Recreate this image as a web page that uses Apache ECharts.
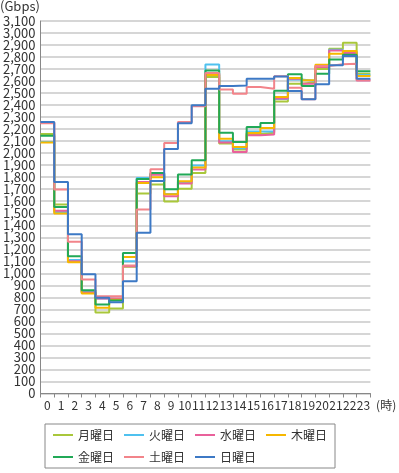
<!DOCTYPE html>
<html>
<head>
<meta charset="utf-8">
<script src="https://cdn.jsdelivr.net/npm/echarts@6/dist/echarts.min.js"></script>
<style>
  html, body { margin: 0; padding: 0; background: #fff; }
  #chart { width: 399px; height: 473px; }
</style>
</head>
<body>
<div id="chart"></div>
<script>
// hour labels on the x axis
var hours = ["0","1","2","3","4","5","6","7","8","9","10","11","12","13","14","15","16","17","18","19","20","21","22","23"];
var dayNames = ["月曜日", "火曜日", "水曜日", "木曜日", "金曜日", "土曜日", "日曜日"];
var dayColors = ["#a9c73b", "#4fc1ef", "#e9619b", "#f6b700", "#21a957", "#f2848a", "#3d79c5"];

// traffic per hour (Gbps)
var mon = [2160,1573,1100,840,675,708,1054,1664,1739,1597,1705,1835,2633,2080,2030,2160,2170,2431,2578,2590,2700,2869,2919,2662];
var tue = [2093,1511,1110,845,790,783,1100,1794,1825,1660,1760,1897,2739,2100,2040,2180,2180,2450,2614,2600,2720,2860,2840,2650];
var wed = [2255,1520,1100,840,790,790,1060,1760,1820,1642,1747,1864,2662,2088,2010,2149,2155,2455,2620,2578,2717,2855,2833,2605];
var thu = [2088,1498,1093,833,713,780,1137,1752,1800,1658,1766,1880,2650,2121,2052,2168,2210,2467,2625,2606,2736,2828,2850,2642];
var fri = [2146,1553,1143,860,741,775,1170,1786,1835,1700,1822,1941,2689,2171,2093,2218,2251,2520,2656,2559,2662,2780,2820,2681];
var sat = [2250,1697,1262,949,810,810,1066,1531,1866,2085,2259,2390,2667,2529,2495,2550,2537,2640,2545,2448,2725,2740,2744,2612];
var sun = [2259,1761,1326,993,796,760,935,1337,1769,2035,2250,2398,2537,2559,2564,2620,2620,2639,2517,2448,2573,2731,2808,2620];

var allDays = [mon, tue, wed, thu, fri, sat, sun];

var yMax = 3100;
var font = '"Noto Sans CJK JP", "Noto Sans", sans-serif';

// each hour value is drawn as a flat step over its hour slot
function toSteps(vals) {
  var pts = vals.map(function (v, i) { return [i, v]; });
  pts.push([vals.length, vals[vals.length - 1]]);
  return pts;
}

function withCommas(v) {
  return String(v).replace(/\B(?=(\d{3})+(?!\d))/g, ",");
}

var yLabel = { fontSize: 13, color: "#333", margin: 5, formatter: withCommas };

var chart = echarts.init(document.getElementById("chart"));

chart.setOption({
  animation: false,
  textStyle: { fontFamily: font },
  title: {
    text: "(Gbps)",
    left: 0,
    top: 0,
    padding: 0,
    textStyle: { fontSize: 13, fontWeight: "normal", color: "#333", fontFamily: font }
  },
  grid: { left: 39, right: 21, top: 21, bottom: 79.5, containLabel: false },
  legend: {
    data: dayNames,
    left: 45,
    top: 424,
    width: 287,
    orient: "horizontal",
    padding: [5, 8, 5, 8],
    itemGap: 10,
    itemWidth: 20,
    itemHeight: 2,
    icon: "rect",
    borderColor: "#888",
    borderWidth: 1,
    textStyle: { fontSize: 12, color: "#333", fontFamily: font }
  },
  xAxis: [
    {
      type: "category",
      data: hours,
      boundaryGap: true,
      name: "(時)",
      nameLocation: "end",
      nameGap: 5,
      nameTextStyle: { fontSize: 12, color: "#333", verticalAlign: "top", padding: [6, 0, 0, 0] },
      axisLine: { lineStyle: { color: "#888", width: 1 } },
      axisTick: { show: true, interval: 0, length: 4, lineStyle: { color: "#888" } },
      axisLabel: { interval: 0, fontSize: 12, color: "#333", margin: 6 },
      splitLine: { show: false }
    },
    {
      type: "value",
      min: 0,
      max: hours.length,
      show: false
    }
  ],
  yAxis: [
    {
      type: "value",
      min: 0,
      max: yMax,
      interval: 100,
      axisLine: { show: true, lineStyle: { color: "#888", width: 1 } },
      axisTick: { show: false },
      axisLabel: Object.assign({ showMinLabel: false, showMaxLabel: false }, yLabel),
      splitLine: { lineStyle: { color: "#d6d6d6", width: 2 } }
    },
    {
      // carries only the 0 and 3,100 labels so the tight labels are not dropped
      type: "value",
      position: "left",
      min: 0,
      max: yMax,
      interval: yMax,
      axisLine: { show: false },
      axisTick: { show: false },
      axisLabel: yLabel,
      splitLine: { show: false }
    }
  ],
  series: dayNames.map(function (name, k) {
    return {
      name: name,
      type: "line",
      xAxisIndex: 1,
      yAxisIndex: 0,
      step: "end",
      symbol: "none",
      data: toSteps(allDays[k]),
      itemStyle: { color: dayColors[k] },
      lineStyle: { color: dayColors[k], width: 2 }
    };
  })
});
</script>
</body>
</html>
